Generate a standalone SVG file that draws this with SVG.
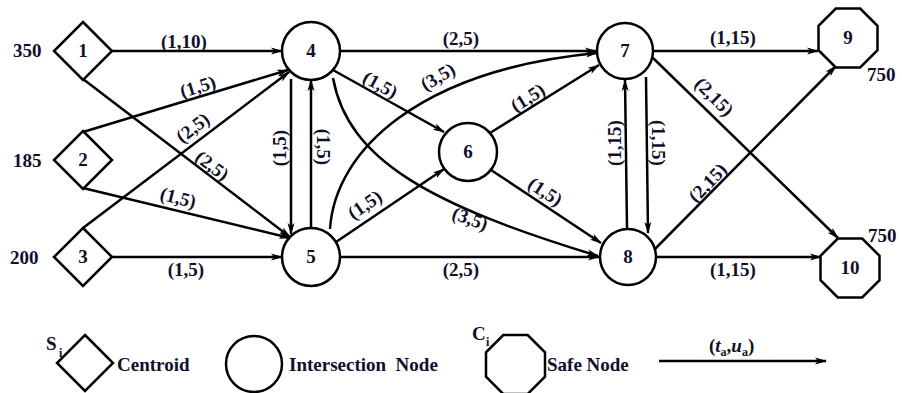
<svg xmlns="http://www.w3.org/2000/svg" width="902" height="393" viewBox="0 0 902 393">
<defs>
<marker id="arr" viewBox="0 0 12 8" refX="11" refY="4" markerWidth="12" markerHeight="8" markerUnits="userSpaceOnUse" orient="auto">
<path d="M0,0.5 L12,4 L0,7.5 L3,4 Z" fill="#000"/>
</marker>
<style>
.nd{fill:#fff;stroke:#000;stroke-width:2.5}
.e{fill:none;stroke:#000;stroke-width:2.5;marker-end:url(#arr)}
text{font-family:"Liberation Serif","Times New Roman",serif;font-weight:bold;font-size:19px;fill:#10102a}
.c{text-anchor:middle}
.sub{font-size:12px}
</style>
</defs>
<rect width="902" height="393" fill="#fff"/>

<g id="connectors">
<line class="e" x1="112" y1="51" x2="282" y2="51"/>
<line class="e" x1="83" y1="132" x2="288" y2="70"/>
<line class="e" x1="83" y1="228" x2="289" y2="72"/>
<line class="e" x1="83" y1="79" x2="290" y2="237"/>
<line class="e" x1="83" y1="188" x2="290" y2="238"/>
<line class="e" x1="112" y1="257" x2="282" y2="257"/>
<line class="e" x1="291" y1="79" x2="291" y2="234"/>
<line class="e" x1="311" y1="228" x2="311" y2="80"/>
<line class="e" x1="340" y1="51" x2="596" y2="51"/>
<line class="e" x1="333" y1="70" x2="444" y2="132"/>
<path class="e" d="M333,78 C348,160 430,205 598,256"/>
<path class="e" d="M330,229 C335,150 420,70 597,53"/>
<line class="e" x1="336" y1="242" x2="444" y2="169"/>
<line class="e" x1="340" y1="257" x2="599" y2="257"/>
<line class="e" x1="490" y1="133" x2="599" y2="65"/>
<line class="e" x1="491" y1="170" x2="601" y2="243"/>
<line class="e" x1="646" y1="77" x2="648" y2="233"/>
<line class="e" x1="627" y1="228" x2="625" y2="80"/>
<line class="e" x1="653" y1="51" x2="818" y2="51"/>
<line class="e" x1="653" y1="58" x2="838" y2="238"/>
<line class="e" x1="655" y1="249" x2="836" y2="66"/>
<line class="e" x1="657" y1="257" x2="821" y2="257"/>
</g>

<g id="edge-labels">
<text class="c" x="184" y="48">(1,10)</text>
<text class="c" transform="translate(198,87) rotate(-16.5)" y="6">(1,5)</text>
<text class="c" transform="translate(193,128) rotate(-37)" y="6">(2,5)</text>
<text class="c" transform="translate(212,166) rotate(37)" y="6">(2,5)</text>
<text class="c" transform="translate(178,198) rotate(14)" y="6">(1,5)</text>
<text class="c" x="186" y="276">(1,5)</text>
<text class="c" transform="translate(280,148) rotate(-90)" y="6">(1,5)</text>
<text class="c" transform="translate(323,147) rotate(90)" y="6">(1,5)</text>
<text class="c" x="461" y="45">(2,5)</text>
<text class="c" transform="translate(380,85) rotate(29)" y="6">(1,5)</text>
<text class="c" transform="translate(438,77) rotate(-30)" y="6">(3,5)</text>
<text class="c" transform="translate(528,98) rotate(-32)" y="6">(1,5)</text>
<text class="c" transform="translate(365,205) rotate(-34)" y="6">(1,5)</text>
<text class="c" transform="translate(470,219) rotate(20)" y="6">(3,5)</text>
<text class="c" transform="translate(545,192) rotate(33)" y="6">(1,5)</text>
<text class="c" x="461" y="276">(2,5)</text>
<text class="c" transform="translate(615,143) rotate(-90)" y="6">(1,15)</text>
<text class="c" transform="translate(658,143) rotate(90)" y="6">(1,15)</text>
<text class="c" x="733" y="44">(1,15)</text>
<text class="c" transform="translate(714,97) rotate(45)" y="6">(2,15)</text>
<text class="c" transform="translate(708,183) rotate(-46)" y="6">(2,15)</text>
<text class="c" x="733" y="276">(1,15)</text>
</g>

<g id="n1"><polygon class="nd" points="83,22 112,51 83,80 54,51"/><text class="c" x="83" y="57">1</text><text x="13" y="57">350</text></g>
<g id="n2"><polygon class="nd" points="83,131 112,160 83,189 54,160"/><text class="c" x="83" y="166">2</text><text x="13" y="167">185</text></g>
<g id="n3"><polygon class="nd" points="83,228 112,257 83,286 54,257"/><text class="c" x="83" y="263">3</text><text x="10" y="264">200</text></g>
<g id="n4"><circle class="nd" cx="311" cy="51" r="29"/><text class="c" x="311" y="57">4</text></g>
<g id="n5"><circle class="nd" cx="311" cy="257" r="29"/><text class="c" x="311" y="263">5</text></g>
<g id="n6"><circle class="nd" cx="468" cy="152" r="29"/><text class="c" x="468" y="158">6</text></g>
<g id="n7"><circle class="nd" cx="625" cy="51" r="28"/><text class="c" x="625" y="57">7</text></g>
<g id="n8"><circle class="nd" cx="628" cy="257" r="28"/><text class="c" x="628" y="263">8</text></g>
<g id="n9"><polygon class="nd" points="835.8,8.5 860.2,8.5 877.5,25.8 877.5,50.2 860.2,67.5 835.8,67.5 818.5,50.2 818.5,25.8"/><text class="c" x="848" y="44">9</text><text x="867" y="81">750</text></g>
<g id="n10"><polygon class="nd" points="837.8,238.5 862.2,238.5 879.5,255.8 879.5,280.2 862.2,297.5 837.8,297.5 820.5,280.2 820.5,255.8"/><text class="c" x="850" y="274">10</text><text x="868" y="242">750</text></g>

<g id="legend">
<polygon class="nd" points="85,335 113,363 85,391 57,363"/>
<text x="46" y="350">S</text><text class="sub" x="59" y="357">i</text>
<text x="117" y="371">Centroid</text>
<circle class="nd" cx="254" cy="364" r="28"/>
<text x="289" y="371" xml:space="preserve">Intersection  Node</text>
<polygon class="nd" points="503.3,335 527.7,335 545,352.3 545,376.7 527.7,394 503.3,394 486,376.7 486,352.3"/>
<text x="472" y="340">C</text><text class="sub" x="486" y="346">i</text>
<text x="547" y="371">Safe Node</text>
<line class="e" x1="659" y1="361" x2="826" y2="361"/>
<text x="709" y="352">(<tspan font-style="italic">t</tspan><tspan class="sub" dy="4">a</tspan><tspan dy="-4">,</tspan><tspan font-style="italic">u</tspan><tspan class="sub" dy="4">a</tspan><tspan dy="-4">)</tspan></text>
</g>
</svg>
